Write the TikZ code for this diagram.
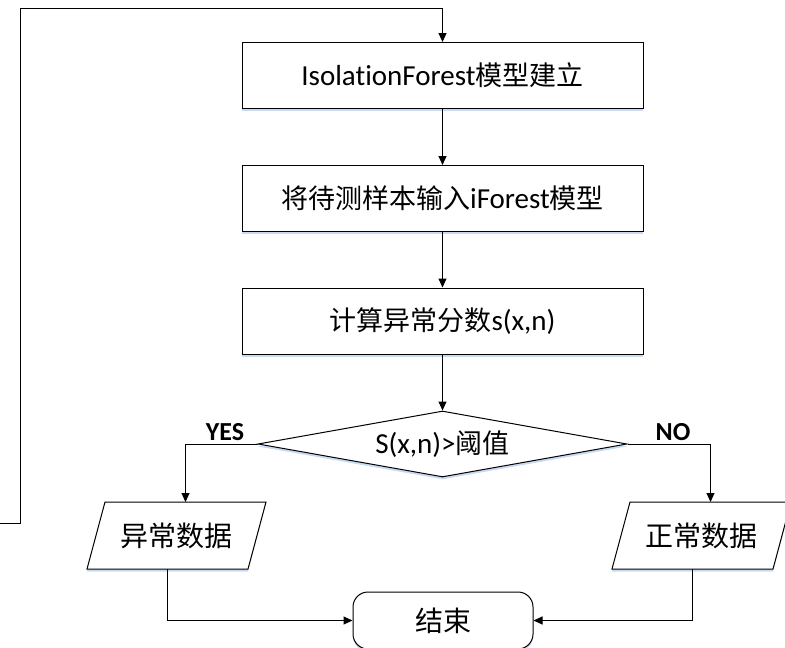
\documentclass[tikz,border=0pt]{standalone}
\usepackage{fontspec}
\setmainfont{Carlito}[Ligatures={NoCommon}]
\newfontfamily\cjkfont{Noto Sans CJK SC}
\usetikzlibrary{arrows.meta,shapes.geometric}
\definecolor{shadowblue}{HTML}{C9DBF2}
\newcommand\zh[1]{{\cjkfont\fontsize{27}{30}\selectfont #1}}
\newcommand\zhbig[1]{{\cjkfont\fontsize{28}{31}\selectfont #1}}
\begin{document}
\begin{tikzpicture}[x=1pt,y=-1pt,
  line width=1pt,
  arr/.style={-{Triangle[length=9pt,width=8pt]}},
  shadowed/.style={preaction={fill=shadowblue, transform canvas={yshift=-2.5pt}}},
  procbox/.style={draw, fill=white, shadowed, minimum width=401pt, minimum height=66pt, inner sep=0pt, font=\fontsize{29}{31}\selectfont},
  decision/.style={draw, fill=white, shadowed, shape=diamond, aspect=5.6, minimum width=369pt, minimum height=66pt, inner sep=0pt, font=\fontsize{29}{31}\selectfont},
  endbox/.style={draw, fill=white, shadowed, rounded corners=15pt, minimum width=180pt, minimum height=57pt, inner sep=0pt},
  txt/.style={inner sep=0pt},
  lbl/.style={inner sep=0pt, font=\bfseries\fontsize{26}{28}\selectfont}
]
\useasboundingbox (0,0) rectangle (785,648);

% process boxes
\node[procbox] (b1) at (442.5,75.5) {IsolationForest\zh{模型建立}};
\node[procbox] (b2) at (442.5,198.5) {\zh{将待测样本输入}iForest\zh{模型}};
\node[procbox] (b3) at (442.5,321) {\zh{计算异常分数}s(x,n)};

% decision
\node[decision] (d) at (442.5,444) {S(x,n)>\zh{阈值}};

% parallelograms (drawn as paths around text nodes)
\fill[shadowblue] (105,504.5) -- (266,504.5) -- (248,571.5) -- (87,571.5) -- cycle;
\draw[fill=white] (105,502) -- (266,502) -- (248,569) -- (87,569) -- cycle;
\node[txt] (pl) at (176.5,535.5) {\zhbig{异常数据}};
\coordinate (plt) at (185.5,502);
\coordinate (plb) at (167.5,569);

\fill[shadowblue] (630,504.5) -- (791,504.5) -- (773,571.5) -- (612,571.5) -- cycle;
\draw[fill=white] (630,502) -- (791,502) -- (773,569) -- (612,569) -- cycle;
\node[txt] (pr) at (701.5,535.5) {\zhbig{正常数据}};
\coordinate (prt) at (710.5,502);
\coordinate (prb) at (692.5,569);

% end
\node[endbox] (end) at (443,620.5) {\zhbig{结束}};

% labels
\node[lbl] (yes) at (225,432) {YES};
\node[lbl] (no) at (673,432) {NO};

% connectors
\draw[arr] (b1.south) -- (b2.north);
\draw[arr] (b2.south) -- (b3.north);
\draw[arr] (b3.south) -- (d.north);
\draw[arr] (d.west) -| (plt);
\draw[arr] (d.east) -| (prt);
\draw[arr] (plb) |- (end.west);
\draw[arr] (prb) |- (end.east);

% feedback loop
\coordinate (fbstart) at (0,523);
\coordinate (fbtop) at (20,8);
\draw[arr] (fbstart) -| (fbtop) -| (b1.north);
\end{tikzpicture}
\end{document}
